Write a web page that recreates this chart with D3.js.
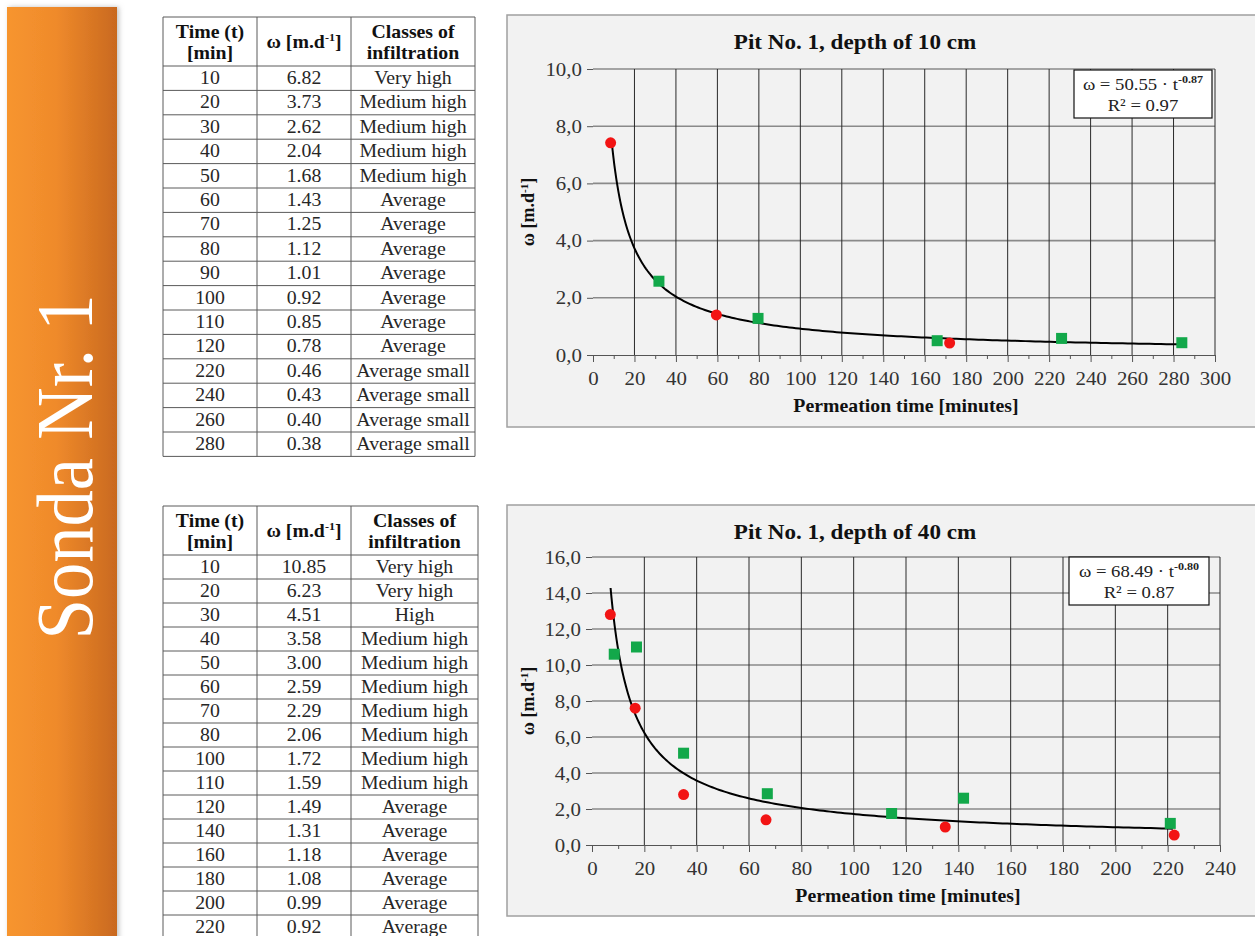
<!DOCTYPE html>
<html lang="en">
<head>
  <meta charset="UTF-8">
  <title>Sonda Nr. 1</title>
  <script src="https://d3js.org/d3.v7.min.js"></script>
  <style>
    html, body { width:100%; height:100%; margin:0; overflow:hidden; background:#fff; }
    svg { display:block; }
    svg text { font-family:"Liberation Serif","Times New Roman",serif; }
    .cell { font-size:18px; fill:#262626; text-anchor:middle; }
    .head { font-size:18px; font-weight:bold; fill:#111; text-anchor:middle; }
    .tick text { font-size:19px; fill:#333; }
    .title { font-size:21px; font-weight:bold; fill:#111; text-anchor:middle; }
    .axtitle { font-size:18px; font-weight:bold; fill:#111; text-anchor:middle; }
  </style>
</head>
<body>
<svg id="chart" width="1255" height="936"></svg>
<script>
// ---- table 1 (depth 10 cm)
const t1Time  = [10,20,30,40,50,60,70,80,90,100,110,120,220,240,260,280];
const t1Omega = [6.82,3.73,2.62,2.04,1.68,1.43,1.25,1.12,1.01,0.92,0.85,0.78,0.46,0.43,0.40,0.38];
const t1Class = ["Very high","Medium high","Medium high","Medium high","Medium high","Average","Average",
                 "Average","Average","Average","Average","Average","Average small","Average small",
                 "Average small","Average small"];
// ---- table 2 (depth 40 cm)
const t2Time  = [10,20,30,40,50,60,70,80,100,110,120,140,160,180,200,220];
const t2Omega = [10.85,6.23,4.51,3.58,3.00,2.59,2.29,2.06,1.72,1.59,1.49,1.31,1.18,1.08,0.99,0.92];
const t2Class = ["Very high","Very high","High","Medium high","Medium high","Medium high","Medium high",
                 "Medium high","Medium high","Medium high","Average","Average","Average","Average",
                 "Average","Average"];

// ---- chart points, depth 10 cm
const c1RedX   = [8.5, 59.5, 172];
const c1RedY   = [7.42, 1.40, 0.42];
const c1GreenX = [31.8, 79.6, 166, 226, 284];
const c1GreenY = [2.58, 1.28, 0.50, 0.58, 0.43];
const c1Fit    = {a:50.55, b:-0.87, r2:"0.97", from:9.2, to:282};

// ---- chart points, depth 40 cm
const c2RedX   = [7, 16.5, 35, 66.5, 135, 222.5];
const c2RedY   = [12.8, 7.6, 2.8, 1.4, 1.0, 0.55];
const c2GreenX = [8.5, 17, 35, 67, 114.5, 142, 221];
const c2GreenY = [10.6, 11.0, 5.1, 2.85, 1.75, 2.6, 1.2];
const c2Fit    = {a:68.49, b:-0.80, r2:"0.87", from:7.1, to:222};

const SX = 1.1; // the source slide is a bit wider than the font, stretch text horizontally

const svg = d3.select("#chart");
const defs = svg.append("defs");

// stretch text around its own anchor point
function stretch(sel) {
  sel.each(function() {
    const t = d3.select(this);
    const x = +t.attr("x") || 0, y = +t.attr("y") || 0;
    t.attr("transform", `translate(${x},${y}) scale(${SX},1) translate(${-x},${-y})`);
  });
}

// sidebar
const grad = defs.append("linearGradient").attr("id","side").attr("x1","0").attr("x2","1");
grad.append("stop").attr("offset","0%").attr("stop-color","#f7952f");
grad.append("stop").attr("offset","45%").attr("stop-color","#ef8a2b");
grad.append("stop").attr("offset","100%").attr("stop-color","#c9691f");
const sh = defs.append("filter").attr("id","shadow").attr("x","-20%").attr("width","140%");
sh.append("feDropShadow").attr("dx",2).attr("dy",0).attr("stdDeviation",2.5).attr("flood-color","#999").attr("flood-opacity",0.6);

svg.append("rect").attr("x",7).attr("y",7).attr("width",110).attr("height",940)
  .attr("fill","url(#side)").attr("filter","url(#shadow)");
svg.append("text")
  .attr("transform","translate(92,467) rotate(-90)")
  .attr("text-anchor","middle")
  .attr("font-size",80).attr("fill","#fff")
  .attr("textLength",345).attr("lengthAdjust","spacingAndGlyphs")
  .text("Sonda Nr. 1");

// ---- tables
function drawTable(x0, y0, colW, headH, rowH, times, omegas, classes) {
  const g = svg.append("g");
  const W = d3.sum(colW), n = times.length;
  const xs = [x0, x0+colW[0], x0+colW[0]+colW[1], x0+W];
  const H = headH + n*rowH;
  const line = "#5a5a5a";
  const ys = [y0, y0+headH].concat(d3.range(1, n+1).map(i => y0+headH+i*rowH));
  g.selectAll("line.h").data(ys).join("line")
    .attr("x1",x0).attr("x2",x0+W).attr("y1",d=>d).attr("y2",d=>d)
    .attr("stroke",line).attr("stroke-width",1);
  g.selectAll("line.v").data(xs).join("line")
    .attr("x1",d=>d).attr("x2",d=>d).attr("y1",y0).attr("y2",y0+H)
    .attr("stroke",line).attr("stroke-width",1);
  const cx = [0,1,2].map(i => (xs[i]+xs[i+1])/2);
  // header
  g.append("text").attr("class","head").attr("x",cx[0]).attr("y",y0+21).text("Time (t)");
  g.append("text").attr("class","head").attr("x",cx[0]).attr("y",y0+42).text("[min]");
  const h2 = g.append("text").attr("class","head").attr("x",cx[1]).attr("y",y0+31);
  h2.append("tspan").text("ω [m.d");
  h2.append("tspan").attr("dy",-7).attr("font-size",11).text("-1");
  h2.append("tspan").attr("dy",7).text("]");
  g.append("text").attr("class","head").attr("x",cx[2]).attr("y",y0+21).text("Classes of");
  g.append("text").attr("class","head").attr("x",cx[2]).attr("y",y0+42).text("infiltration");
  // body
  const fmt = d3.format(".2f");
  const rows = d3.range(n);
  g.selectAll("text.c0").data(rows).join("text").attr("class","cell c0")
    .attr("x",cx[0]).attr("y",i => y0+headH+i*rowH+18).text(i => times[i]);
  g.selectAll("text.c1").data(rows).join("text").attr("class","cell c1")
    .attr("x",cx[1]).attr("y",i => y0+headH+i*rowH+18).text(i => fmt(omegas[i]));
  g.selectAll("text.c2").data(rows).join("text").attr("class","cell c2")
    .attr("x",cx[2]).attr("y",i => y0+headH+i*rowH+18).text(i => classes[i]);
  g.selectAll("text").call(stretch);
}
drawTable(163, 17, [94,94,124], 49, 24.4, t1Time, t1Omega, t1Class);
drawTable(163, 506, [94,94,127], 49, 24, t2Time, t2Omega, t2Class);

// ---- charts
function drawChart(cfg) {
  const g = svg.append("g");
  g.append("rect").attr("x",cfg.panel[0]).attr("y",cfg.panel[1])
    .attr("width",cfg.panel[2]).attr("height",cfg.panel[3])
    .attr("fill","#f2f2f2").attr("stroke","#a0a0a0").attr("stroke-width",1.5);

  const x = d3.scaleLinear().domain([0, cfg.xMax]).range([cfg.plot[0], cfg.plot[1]]);
  const y = d3.scaleLinear().domain([0, cfg.yMax]).range([cfg.plot[3], cfg.plot[2]]);

  // grid
  g.selectAll("line.hg").data(d3.range(2, cfg.yMax+0.1, 2)).join("line")
    .attr("x1",x(0)).attr("x2",x(cfg.xMax)).attr("y1",d=>y(d)).attr("y2",d=>y(d))
    .attr("stroke","#8a8a8a").attr("stroke-width",1.6);
  g.selectAll("line.vg").data(d3.range(20, cfg.xMax+0.1, 20)).join("line")
    .attr("x1",d=>x(d)).attr("x2",d=>x(d)).attr("y1",y(0)).attr("y2",y(cfg.yMax))
    .attr("stroke","#2a2a2a").attr("stroke-width",1);

  const comma = d => d3.format(".1f")(d).replace(".", ",");
  const ya = g.append("g").attr("transform",`translate(${x(0)},0)`)
    .call(d3.axisLeft(y).tickValues(d3.range(0, cfg.yMax+0.1, 2)).tickSize(6).tickPadding(5).tickFormat(comma))
    .attr("font-family", null).attr("font-size", null);
  ya.select(".domain").remove();
  ya.selectAll(".tick line").attr("stroke","#555");
  ya.selectAll(".tick text").call(stretch);
  const xa = g.append("g").attr("transform",`translate(0,${y(0)})`)
    .call(d3.axisBottom(x).tickValues(d3.range(0, cfg.xMax+0.1, 20)).tickSize(7).tickPadding(10))
    .attr("font-family", null).attr("font-size", null);
  xa.select(".domain").attr("stroke","#555");
  xa.selectAll(".tick line").attr("stroke","#555");
  xa.selectAll(".tick text").call(stretch);
  g.append("g").attr("transform",`translate(0,${y(0)})`)
    .call(d3.axisBottom(x).tickValues(d3.range(10, cfg.xMax, 20)).tickSize(4).tickFormat(""))
    .call(a => a.select(".domain").remove())
    .selectAll(".tick line").attr("stroke","#555");

  // titles
  g.append("text").attr("class","title").attr("x",cfg.titleX).attr("y",cfg.panel[1]+34)
    .text(cfg.title).call(stretch);
  g.append("text").attr("class","axtitle").attr("x",(x(0)+x(cfg.xMax))/2+2).attr("y",y(0)+57)
    .text("Permeation time [minutes]").call(stretch);
  const yt = g.append("text").attr("class","axtitle")
    .attr("transform",`translate(${cfg.panel[0]+27},${(y(0)+y(cfg.yMax))/2}) rotate(-90)`);
  yt.append("tspan").text("ω [m.d");
  yt.append("tspan").attr("dy",-6).attr("font-size",11).text("-1");
  yt.append("tspan").attr("dy",6).text("]");

  // fit curve
  const f = cfg.fit;
  const ts = d3.range(0, 201).map(i => f.from + (f.to - f.from) * Math.pow(i/200, 2));
  g.append("path").datum(ts)
    .attr("d", d3.line().x(t => x(t)).y(t => y(f.a * Math.pow(t, f.b))))
    .attr("fill","none").attr("stroke","#000").attr("stroke-width",2);

  // points
  g.selectAll("rect.sq").data(cfg.gx.map((v,i)=>[v,cfg.gy[i]])).join("rect")
    .attr("x",d=>x(d[0])-5.5).attr("y",d=>y(d[1])-5.5).attr("width",11).attr("height",11)
    .attr("fill","#12a84a");
  g.selectAll("circle.rd").data(cfg.rx.map((v,i)=>[v,cfg.ry[i]])).join("circle")
    .attr("cx",d=>x(d[0])).attr("cy",d=>y(d[1])).attr("r",5.5)
    .attr("fill","#f21414");

  // equation box
  const b = cfg.box;
  g.append("rect").attr("x",b[0]).attr("y",b[1]).attr("width",b[2]).attr("height",b[3])
    .attr("fill","#fff").attr("stroke","#111").attr("stroke-width",1.2);
  const e1 = g.append("text").attr("x",b[0]+b[2]/2).attr("y",b[1]+20)
    .attr("text-anchor","middle").attr("font-size",17).attr("fill","#222");
  e1.append("tspan").text(`ω = ${d3.format(".2f")(f.a)} · t`);
  e1.append("tspan").attr("dy",-7).attr("font-size",11).attr("font-weight","bold")
    .text(f.b.toFixed(2));
  const e2 = g.append("text").attr("x",b[0]+b[2]/2).attr("y",b[1]+41)
    .attr("text-anchor","middle").attr("font-size",17).attr("fill","#222")
    .text(`R² = ${f.r2}`);
  e1.call(stretch); e2.call(stretch);
}

drawChart({
  panel:[507,15,760,412], plot:[593,1215,69,355], xMax:300, yMax:10,
  title:"Pit No. 1, depth of 10 cm", titleX:855,
  rx:c1RedX, ry:c1RedY, gx:c1GreenX, gy:c1GreenY, fit:c1Fit,
  box:[1074,70,138,48]
});
drawChart({
  panel:[507,505,760,411], plot:[592,1220,557,845], xMax:240, yMax:16,
  title:"Pit No. 1, depth of 40 cm", titleX:855,
  rx:c2RedX, ry:c2RedY, gx:c2GreenX, gy:c2GreenY, fit:c2Fit,
  box:[1069,557,140,48]
});
</script>
</body>
</html>
